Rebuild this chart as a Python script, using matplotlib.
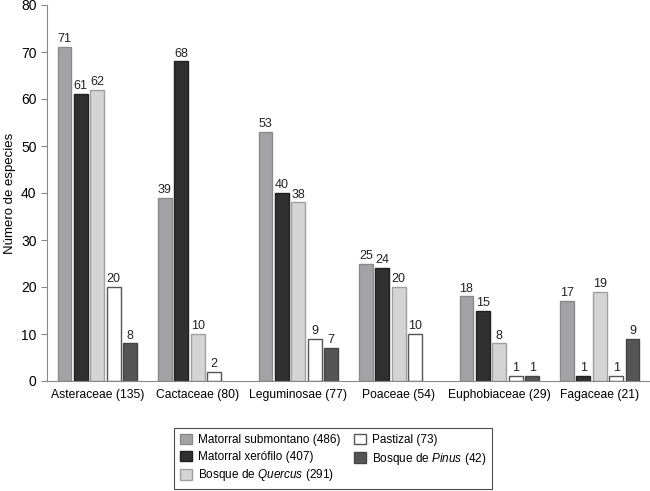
import numpy as np
import matplotlib
matplotlib.use("Agg")
import matplotlib.pyplot as plt
from matplotlib.patches import Patch

plt.rcParams['font.family'] = ['Liberation Sans', 'DejaVu Sans']
plt.rcParams['mathtext.fontset'] = 'custom'
plt.rcParams['mathtext.it'] = 'Liberation Sans:italic'
plt.rcParams['mathtext.rm'] = 'Liberation Sans'

categories = ["Asteraceae (135)", "Cactaceae (80)", "Leguminosae (77)",
              "Poaceae (54)", "Euphobiaceae (29)", "Fagaceae (21)"]
series_names = ["Matorral submontano (486)", "Matorral xerófilo (407)",
                r"Bosque de $\it{Quercus}$ (291)", "Pastizal (73)",
                r"Bosque de $\it{Pinus}$ (42)"]
submontano = [71, 39, 53, 25, 18, 17]
xerofilo = [61, 68, 40, 24, 15, 1]
quercus = [62, 10, 38, 20, 8, 19]
pastizal = [20, 2, 9, 10, 1, 1]
pinus = [8, None, 7, None, 1, 9]
series = [submontano, xerofilo, quercus, pastizal, pinus]

faces = ["#a3a3a5", "#303030", "#d4d4d4", "#ffffff", "#555555"]
edges = ["#8a8a8a", "#202020", "#a0a0a0", "#555555", "#444444"]

fig = plt.figure(figsize=(6.5, 4.91), dpi=100)
ax = fig.add_axes([47/650, 110/491, 1 - 47/650, (381-5)/491])

x = np.arange(len(categories))
step = 0.164
width = 0.135
for i, (vals, fc, ec) in enumerate(zip(series, faces, edges)):
    off = (i - 2) * step
    for j, v in enumerate(vals):
        if v is None:
            continue
        ax.bar(x[j] + off, v, width=width, color=fc, edgecolor=ec, linewidth=1.0)
        ax.text(x[j] + off, v + 0.4, str(v), ha='center', va='bottom',
                fontsize=9, color='#222222')

ax.set_xlim(-0.5, len(categories) - 0.5)
ax.set_ylim(0, 80)
ax.set_yticks(range(0, 81, 10))
ax.set_xticks(x)
ax.set_xticklabels(categories, fontsize=8.7)
ax.tick_params(axis='x', length=0, pad=6)
ax.tick_params(axis='y', labelsize=10, length=4, color='#888888', direction='out')
ax.set_ylabel("Número de especies", fontsize=9.5)
ax.yaxis.set_label_coords(-31/603, 0.5)
for s in ['top', 'right']:
    ax.spines[s].set_visible(False)
for s in ['left', 'bottom']:
    ax.spines[s].set_color('#888888')

handles = [Patch(facecolor=fc, edgecolor=ec, label=n)
           for fc, ec, n in zip(faces, edges, series_names)]
leg = fig.legend(handles=handles, ncol=2, loc='lower center',
                 bbox_to_anchor=(333/650, 0.0), fontsize=8.5, frameon=True,
                 fancybox=False, edgecolor='#222222', handlelength=1.0,
                 handleheight=1.0, columnspacing=1.2, borderpad=0.5,
                 labelspacing=0.38, handletextpad=0.5, borderaxespad=0.15)
leg.get_frame().set_linewidth(0.8)

fig.savefig("out.png", dpi=100)
